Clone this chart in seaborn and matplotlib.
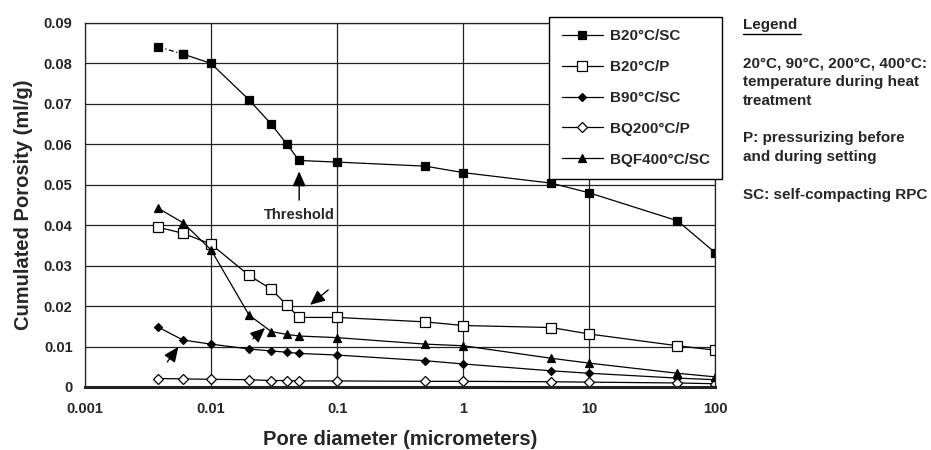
import matplotlib
matplotlib.use('Agg')
import matplotlib.pyplot as plt
from matplotlib.lines import Line2D
import seaborn as sns
import pandas as pd

# Pore diameter (micrometers), shared by all series
pore_diameter = [0.0038, 0.006, 0.01, 0.02, 0.03, 0.04, 0.05, 0.1, 0.5, 1, 5, 10, 50, 100]

# Cumulated porosity (ml/g)
b20_sc = [0.0841, 0.0823, 0.0800, 0.0710, 0.0650, 0.0600, 0.0560, 0.0556, 0.0546, 0.0530, 0.0504, 0.0480, 0.0411, 0.0332]
b20_p = [0.0395, 0.0380, 0.0353, 0.0276, 0.0242, 0.0202, 0.0172, 0.0172, 0.0161, 0.0152, 0.0147, 0.0131, 0.0102, 0.0091]
b90_sc = [0.0148, 0.0116, 0.0106, 0.0094, 0.0089, 0.0086, 0.0083, 0.0079, 0.0065, 0.0057, 0.0040, 0.0034, 0.0022, 0.0018]
bq200_p = [0.0021, 0.0020, 0.0019, 0.0018, 0.0016, 0.0016, 0.0015, 0.0015, 0.0014, 0.0014, 0.0013, 0.0012, 0.0010, 0.0008]
bqf400_sc = [0.0442, 0.0406, 0.0339, 0.0178, 0.0137, 0.0130, 0.0126, 0.0122, 0.0106, 0.0102, 0.0071, 0.0059, 0.0034, 0.0025]

series_names = ['B20°C/SC', 'B20°C/P', 'B90°C/SC', 'BQ200°C/P', 'BQF400°C/SC']
series_values = [b20_sc, b20_p, b90_sc, bq200_p, bqf400_sc]
markers = ['s', 's', 'D', 'D', '^']
facecolors = ['black', 'white', 'black', 'white', 'black']
markersizes = [6, 7, 4.5, 5, 5.5]

sns.set_style('white')
plt.rcParams['font.family'] = ['Liberation Sans', 'DejaVu Sans']
plt.rcParams['font.weight'] = 'bold'

fig = plt.figure(figsize=(9.31, 4.5), dpi=100)
ax = fig.add_axes([0.0913, 0.14, 0.677, 0.809])

for i, (name, vals, m, fc, ms) in enumerate(zip(series_names, series_values, markers, facecolors, markersizes)):
    df = pd.DataFrame({'d': pore_diameter, 'p': vals})
    style = dict(color='black', linewidth=0.9, marker=m, markersize=ms, markerfacecolor=fc,
                 markeredgecolor='black', markeredgewidth=0.9, sort=False)
    if i == 0:
        # first segment of B20°C/SC is drawn dash-dotted
        sns.lineplot(data=df.iloc[:2], x='d', y='p', ax=ax, linestyle=(0, (4, 2, 1, 2)), **style)
        sns.lineplot(data=df.iloc[1:], x='d', y='p', ax=ax, label=name, **style)
    else:
        sns.lineplot(data=df, x='d', y='p', ax=ax, label=name, **style)

ax.set_xscale('log')
ax.set_xlim(0.001, 100)
ax.set_ylim(0, 0.09)
ax.set_xticks([0.001, 0.01, 0.1, 1, 10, 100])
ax.set_xticklabels(['0.001', '0.01', '0.1', '1', '10', '100'])
ax.set_yticks([i / 100 for i in range(10)])
ax.set_yticklabels(['0'] + ['%.2f' % (i / 100) for i in range(1, 10)])
ax.minorticks_off()
ax.tick_params(labelsize=10.5, length=0)
ax.tick_params(axis='x', pad=11)
ax.tick_params(axis='y', pad=9)
for lbl in ax.get_xticklabels() + ax.get_yticklabels():
    lbl.set_fontweight('bold')
ax.grid(True, color='#222222', linewidth=0.9)
for s in ax.spines.values():
    s.set_color('#222222')
    s.set_linewidth(0.9)
ax.spines['bottom'].set_linewidth(2.2)

ax.set_xlabel('Pore diameter (micrometers)', fontsize=14.5, fontweight='bold', labelpad=10)
ax.set_ylabel('Cumulated Porosity (ml/g)', fontsize=14.5, fontweight='bold', labelpad=8)

# annotations
arrow = dict(arrowstyle='-|>,head_length=0.9,head_width=0.4', color='black', lw=1.0,
             shrinkA=0, shrinkB=0)
ax.annotate('', xy=(0.05, 0.0533), xytext=(0.05, 0.0462), arrowprops=arrow)
ax.text(0.05, 0.0425, 'Threshold', ha='center', va='center', fontsize=10.5, fontweight='bold')
ax.annotate('', xy=(0.061, 0.0203), xytext=(0.085, 0.024), arrowprops=arrow)
ax.annotate('', xy=(0.0268, 0.0146), xytext=(0.0215, 0.0119), arrowprops=arrow)
ax.annotate('', xy=(0.0055, 0.0099), xytext=(0.0045, 0.0062), arrowprops=arrow)

leg = ax.legend(loc='upper left', bbox_to_anchor=(0.590, 0.962), bbox_transform=fig.transFigure,
                fontsize=11, frameon=True, fancybox=False, edgecolor='black', framealpha=1,
                handlelength=2.7, handletextpad=0.45, labelspacing=1.1, borderpad=0.8,
                borderaxespad=0)
leg.get_frame().set_linewidth(1.0)
for t in leg.get_texts():
    t.set_fontweight('bold')

# side notes
notes = [
    ('20°C, 90°C, 200°C, 400°C:', 63),
    ('temperature during heat', 82),
    ('treatment', 101),
    ('P: pressurizing before', 138),
    ('and during setting', 157),
    ('SC: self-compacting RPC', 195),
]
fig.text(743 / 931, 1 - 25 / 450, 'Legend', fontsize=11, fontweight='bold', va='center')
fig.add_artist(Line2D([743 / 931, 801 / 931], [1 - 34 / 450, 1 - 34 / 450], color='black', lw=1))
for txt, ypx in notes:
    fig.text(743 / 931, 1 - ypx / 450, txt, fontsize=11, fontweight='bold', va='center')

fig.savefig('out.png', dpi=100)
